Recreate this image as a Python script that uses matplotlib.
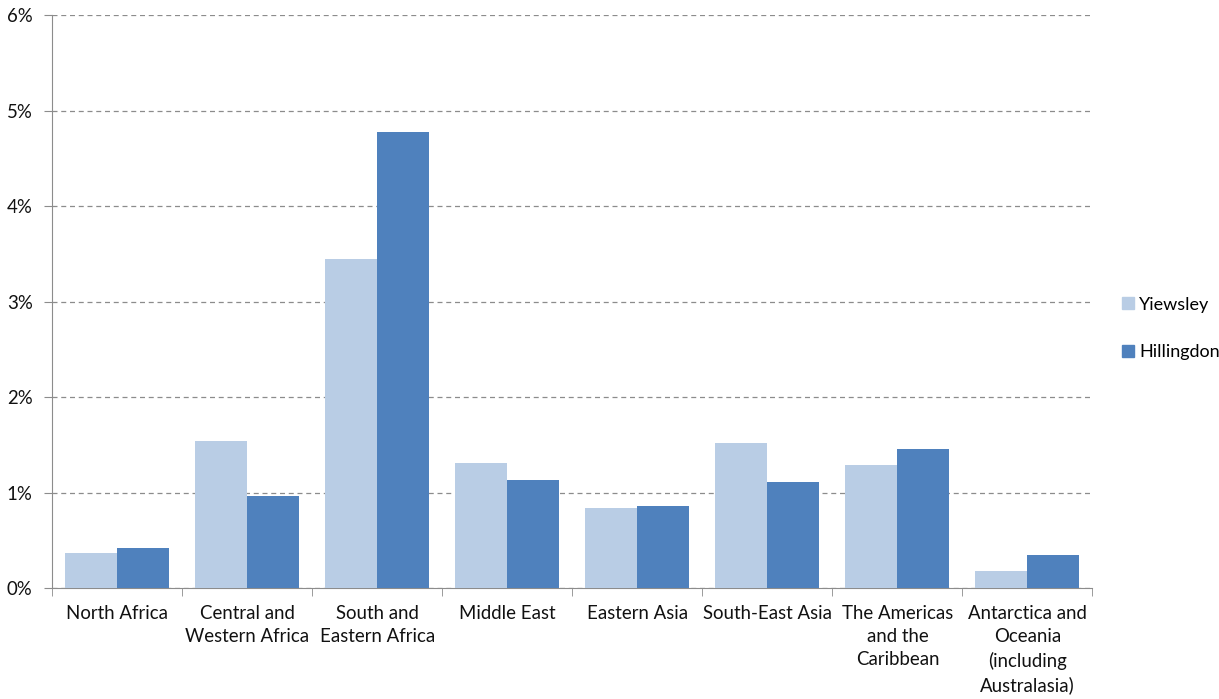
import matplotlib
matplotlib.use("Agg")
import matplotlib.pyplot as plt
from matplotlib.lines import Line2D
import numpy as np

categories = ["North Africa", "Central and\nWestern Africa", "South and\nEastern Africa",
              "Middle East", "Eastern Asia", "South-East Asia",
              "The Americas\nand the\nCaribbean", "Antarctica and\nOceania\n(including\nAustralasia)"]
yiewsley = [0.37, 1.54, 3.44, 1.31, 0.84, 1.52, 1.29, 0.18]
hillingdon = [0.42, 0.96, 4.77, 1.13, 0.86, 1.11, 1.46, 0.35]
series_names = ["Yiewsley", "Hillingdon"]
colors = ["#B9CDE5", "#4F81BD"]

plt.rcParams['font.family'] = ['Lato', 'DejaVu Sans']

fig = plt.figure(figsize=(12.19, 6.99), dpi=100)
ax = fig.add_axes([0.0427, 0.1588, 0.8535, 0.8197])

x = np.arange(len(categories))
w = 0.4
ax.bar(x - w / 2, yiewsley, w, color=colors[0], zorder=3)
ax.bar(x + w / 2, hillingdon, w, color=colors[1], zorder=3)

ax.set_xlim(-0.5, len(categories) - 0.5)
ax.set_ylim(0, 6)
ax.set_yticks(range(0, 7))
ax.set_yticklabels([f"{v}%" for v in range(0, 7)])
ax.yaxis.grid(True, linestyle=(0, (4, 3)), color="#8c8c8c", linewidth=0.9, zorder=0)
ax.set_xticks(x)
ax.set_xticklabels(categories, fontsize=13.4, color="#111111", linespacing=1.45, va="top")
ax.set_xticks(np.arange(-0.5, len(categories)), minor=True)
ax.tick_params(axis="x", which="major", length=0, pad=12)
ax.tick_params(axis="x", which="minor", length=6, color="#8c8c8c")
ax.tick_params(axis="y", length=6, color="#8c8c8c", labelsize=13.4, labelcolor="#111111", pad=8)
ax.tick_params(axis="y", direction="out")
for s in ["top", "right"]:
    ax.spines[s].set_visible(False)
ax.spines["left"].set_color("#8c8c8c")
ax.spines["bottom"].set_color("#8c8c8c")

handles = [Line2D([], [], marker="s", linestyle="none", markersize=9,
                  markerfacecolor=c, markeredgecolor=c) for c in colors]
fig.legend(handles, series_names, loc="center left", bbox_to_anchor=(0.905, 0.53),
           frameon=False, fontsize=13, handletextpad=0.1, labelspacing=1.75,
           handlelength=1.0)

fig.savefig("out.png", dpi=100)
